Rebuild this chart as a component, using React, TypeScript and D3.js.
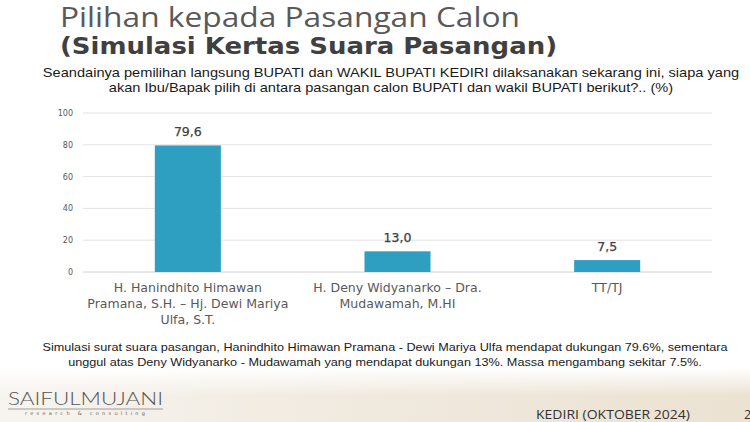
import React from "react";
import * as d3 from "d3";

const categories: string[][] = [
  ["H. Hanindhito Himawan", "Pramana, S.H. \u2013 Hj. Dewi Mariya", "Ulfa, S.T."],
  ["H. Deny Widyanarko \u2013 Dra.", "Mudawamah, M.HI"],
  ["TT/TJ"],
];
const values: number[] = [79.6, 13.0, 7.5];
const valueLabels: string[] = ["79,6", "13,0", "7,5"];
const yTicks: number[] = [0, 20, 40, 60, 80, 100];

const titleLine1 = "Pilihan kepada Pasangan Calon";
const titleLine2 = "(Simulasi Kertas Suara Pasangan)";
const questionLines = [
  "Seandainya pemilihan langsung BUPATI dan WAKIL BUPATI KEDIRI dilaksanakan sekarang ini, siapa yang",
  "akan Ibu/Bapak pilih di antara pasangan calon BUPATI dan wakil BUPATI berikut?.. (%)",
];
const noteLines = [
  "Simulasi surat suara pasangan, Hanindhito Himawan Pramana - Dewi Mariya Ulfa mendapat dukungan 79.6%, sementara",
  "unggul atas Deny Widyanarko -  Mudawamah yang mendapat dukungan 13%. Massa mengambang sekitar 7.5%.",
];

export default function App() {
  const W = 750;
  const H = 422;
  const x0 = 83;
  const x1 = 712;
  const yTop = 113;
  const yBot = 272;

  const x = d3
    .scaleBand<number>()
    .domain(values.map((_, i) => i))
    .range([x0, x1])
    .paddingInner(0.685)
    .paddingOuter(0.3425);
  const y = d3.scaleLinear().domain([0, 100]).range([yBot, yTop]);

  return (
    <svg
      width={W}
      height={H}
      viewBox={`0 0 ${W} ${H}`}
      style={{ position: "absolute", left: 0, top: 0, background: "#fff" }}
    >
      <defs>
        <linearGradient id="bgv" x1="0" y1="0" x2="0" y2="1">
          <stop offset="0" stopColor="#ffffff" stopOpacity="1" />
          <stop offset="1" stopColor="#ffffff" stopOpacity="0" />
        </linearGradient>
        <linearGradient id="bgh" x1="0" y1="0" x2="1" y2="0">
          <stop offset="0" stopColor="#f7f4ef" />
          <stop offset="0.5" stopColor="#f0e9de" />
          <stop offset="1" stopColor="#ebe2d2" />
        </linearGradient>
      </defs>
      <rect x={0} y={0} width={W} height={H} fill="#fff" />
      <rect x={0} y={368} width={W} height={H - 368} fill="url(#bgh)" />
      <rect x={0} y={368} width={W} height={28} fill="url(#bgv)" />

      {/* Titles */}
      <text
        x={60}
        y={27}
        fontFamily="'Open Sans', sans-serif"
        fontSize={28}
        fill="#595959"
        textLength={460}
        lengthAdjust="spacingAndGlyphs"
      >
        {titleLine1}
      </text>
      <text
        x={60}
        y={54}
        fontFamily="'DejaVu Sans', Verdana, sans-serif"
        fontWeight="bold"
        fontSize={23}
        fill="#404040"
        textLength={497}
        lengthAdjust="spacingAndGlyphs"
      >
        {titleLine2}
      </text>
      {questionLines.map((t, i) => (
        <g key={i} transform={`translate(391,${77 + i * 15}) scale(1.16,1)`}>
          <text
            x={0}
            y={0}
            textAnchor="middle"
            fontFamily="'Liberation Sans', Arial, sans-serif"
            fontSize={12.6}
            fill="#1a1a1a"
          >
            {t}
          </text>
        </g>
      ))}

      {/* Gridlines and ticks */}
      {yTicks.map((t) => (
        <g key={t}>
          <line
            x1={x0}
            x2={x1}
            y1={y(t)}
            y2={y(t)}
            stroke={t === 0 ? "#d0d0d0" : "#e3e3e3"}
            strokeWidth={1}
          />
          <text
            x={73}
            y={y(t) + 3}
            textAnchor="end"
            fontFamily="'DejaVu Sans', Verdana, sans-serif"
            fontSize={8}
            fill="#595959"
          >
            {t}
          </text>
        </g>
      ))}

      {/* Bars */}
      {values.map((v, i) => {
        const cx = (x(i) as number) + x.bandwidth() / 2;
        return (
          <g key={i}>
            <rect
              x={x(i)}
              y={y(v)}
              width={x.bandwidth()}
              height={y(0) - y(v)}
              fill="#2e9fc0"
            />
            <text
              x={cx}
              y={y(v) - 9}
              textAnchor="middle"
              fontFamily="'DejaVu Sans', Verdana, sans-serif"
              fontSize={12.5}
              fontWeight={500}
              fill="#404040"
              stroke="#404040"
              strokeWidth={0.25}
            >
              {valueLabels[i]}
            </text>
            {categories[i].map((line, j) => (
              <g key={j} transform={`translate(${cx},${292 + j * 16}) scale(1.09,1)`}>
                <text
                  x={0}
                  y={0}
                  textAnchor="middle"
                  fontFamily="'DejaVu Sans', Verdana, sans-serif"
                  fontSize={11.5}
                  fill="#595959"
                >
                  {line}
                </text>
              </g>
            ))}
          </g>
        );
      })}

      {/* Note */}
      {noteLines.map((t, i) => (
        <g key={i} transform={`translate(385,${351 + i * 15}) scale(1.093,1)`}>
          <text
            x={0}
            y={0}
            textAnchor="middle"
            fontFamily="'Liberation Sans', Arial, sans-serif"
            fontSize={11.6}
            fill="#1a1a1a"
          >
            {t}
          </text>
        </g>
      ))}

      {/* Footer */}
      <text
        x={8}
        y={405}
        fontFamily="Lato, sans-serif"
        fontWeight={300}
        fontSize={17}
        fill="#555"
        textLength={155}
        lengthAdjust="spacingAndGlyphs"
      >
        SAIFULMUJANI
      </text>
      <line x1={8} x2={163} y1={409} y2={409} stroke="#888" strokeWidth={0.8} />
      <text
        x={25}
        y={415}
        fontFamily="'DejaVu Sans', sans-serif"
        fontSize={5}
        fill="#666"
        textLength={120}
        lengthAdjust="spacing"
      >
        research &amp; consulting
      </text>
      <text
        x={536}
        y={419}
        fontFamily="'Open Sans', sans-serif"
        fontSize={12.5}
        fill="#333"
        textLength={154}
        lengthAdjust="spacingAndGlyphs"
      >
        KEDIRI (OKTOBER 2024)
      </text>
      <text x={744} y={419} fontFamily="'Open Sans', sans-serif" fontSize={12.5} fill="#333">
        2
      </text>
    </svg>
  );
}
